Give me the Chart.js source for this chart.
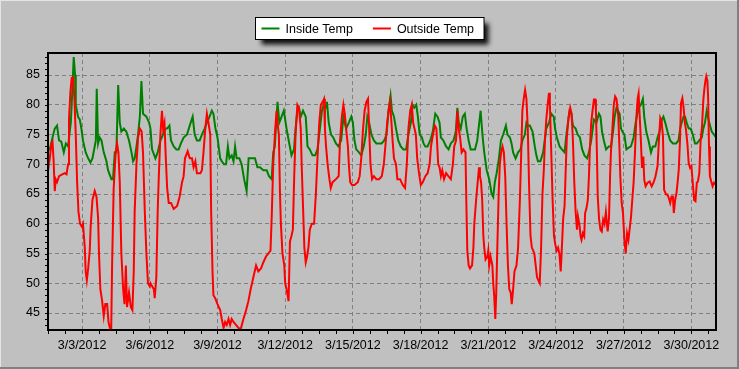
<!DOCTYPE html>
<html>
<head>
<meta charset="utf-8">
<script src="https://cdn.jsdelivr.net/npm/chart.js@4/dist/chart.umd.min.js"></script>
<style>
  body { margin: 0; background: #c0c0c0; }
  canvas { display: block; }
</style>
</head>
<body>
<canvas id="chart" width="739" height="369"></canvas>
<script>
// days are day-of-month in March 2012 (fractional = time of day)
var xTickDays = [3, 6, 9, 12, 15, 18, 21, 24, 27, 30];
var xTickLabels = ['3/3/2012', '3/6/2012', '3/9/2012', '3/12/2012', '3/15/2012',
  '3/18/2012', '3/21/2012', '3/24/2012', '3/27/2012', '3/30/2012'];
var yTicks = [45, 50, 55, 60, 65, 70, 75, 80, 85];

var insideDay = [1.49,1.57,1.69,1.79,1.89,1.98,2.08,2.19,2.28,2.38,2.50,2.54,2.63,2.69,2.72,2.82,2.90,2.97,
  3.04,3.16,3.27,3.37,3.46,3.56,3.61,3.65,3.71,3.78,3.86,3.96,4.08,4.15,4.30,4.37,4.45,4.52,4.60,4.67,4.74,
  4.85,4.96,5.08,5.19,5.26,5.33,5.41,5.48,5.56,5.63,5.70,5.85,5.97,
  6.03,6.10,6.25,6.35,6.47,6.59,6.69,6.77,6.87,6.94,7.06,7.18,7.28,7.38,7.50,7.65,7.77,7.90,7.99,8.09,
  8.21,8.31,8.43,8.53,8.65,8.75,8.82,8.91,9.00,9.12,9.19,9.29,9.38,9.46,9.53,9.63,9.71,9.78,9.85,9.97,
  10.07,10.18,10.29,10.38,10.51,10.66,10.77,10.88,11.03,11.18,11.28,11.40,11.47,11.54,11.62,11.66,11.74,
  11.84,11.94,12.06,12.18,
  12.28,12.39,12.46,12.54,12.61,12.69,12.79,12.91,12.99,13.09,13.21,13.33,13.43,13.54,13.63,13.70,13.81,
  13.85,13.93,14.03,14.13,14.25,14.36,14.48,14.58,14.70,14.82,14.93,15.00,15.07,15.15,15.27,15.37,15.48,
  15.57,15.64,15.72,15.82,15.93,16.04,16.16,16.27,16.39,16.49,16.58,16.67,16.73,16.82,16.91,17.01,17.12,
  17.24,17.36,17.46,17.57,17.64,17.72,17.81,17.88,17.96,18.06,18.13,18.21,18.31,18.43,
  18.54,18.65,18.75,18.84,18.90,19.01,19.13,19.24,19.34,19.46,19.56,19.63,19.69,19.78,19.87,19.96,20.04,
  20.13,20.22,20.31,20.41,20.51,20.60,20.66,20.74,20.82,20.93,21.04,21.15,21.22,21.29,21.37,21.47,21.56,
  21.66,21.78,21.85,21.96,22.03,22.10,22.21,22.32,22.43,22.51,22.62,22.69,22.76,22.84,22.96,23.06,23.13,
  23.20,23.31,23.43,23.50,23.57,23.69,23.79,23.90,23.96,24.04,24.16,24.26,24.38,24.46,24.53,24.60,24.68,
  24.75,24.87,24.96,
  25.06,25.16,25.26,25.38,25.46,25.56,25.68,25.79,25.90,25.97,26.04,26.12,26.22,26.34,26.44,26.53,26.60,
  26.68,26.75,26.82,26.88,26.94,27.03,27.12,27.22,27.32,27.44,27.53,27.66,27.76,27.85,27.91,28.00,28.10,
  28.21,28.29,28.40,28.50,28.59,28.69,28.76,28.84,28.94,29.06,29.18,29.32,29.43,29.50,29.57,29.65,29.72,
  29.79,29.88,29.97,30.06,30.16,30.24,30.35,30.46,30.53,30.60,30.68,30.79,30.90,31.00,31.09];
var insideTemp = [72.8,72.5,74.5,76,76.5,74,73.8,72,73.5,73,77,80,88,85,80,78,77.5,76,
  74,72,71,70.3,71,73,74,82.7,73.5,74.5,74,72,70.5,69,67.5,67.5,72,72,83.3,77,75.5,
  76,75.5,74,72,70.5,71,73,75,78,84,78.5,78,77,
  76,72.5,71,72,74,75,76,76,76.5,74,73,72.5,72.5,73.5,74.5,75,76.5,78,75,74,
  74,75,76,77,78,79,78.5,76,74.5,71,70.5,70,70,73,71,71.5,70.5,73,71,71,
  70,67.5,65.5,71,71,71,69.5,69.5,69,69,68,67.5,72,73,78,80.5,77,
  78,79,76,73.5,
  71.5,72.5,76,79,79.5,78,79,78,73,72.5,71.5,71.5,72.5,76,79,80,79.5,
  80.5,77,75,74.5,73.5,73,74,78,76,77,78,77,74,72.5,72,71.5,73,
  75,78,77,75,74,73.5,73.5,73.5,74,75,79,81.5,79,78,76,74,73,
  72.5,72.5,75,77,80,79.5,80,78,75,74.5,73.5,73,73,74,
  75.5,78.5,78,77,74.5,74,73,72.5,73.5,74,75.5,79.5,77,76,78,78.5,76,
  74,72.5,72.5,72.5,74,77,79,75,72,69,67.5,65,64.5,67,68.5,71,74,
  75,76.5,75,74.5,73.5,72,71,72,72.5,74,75,77,76.5,76.5,75.5,73,71.5,
  70.5,70.5,72,74,76,77,78.5,78,76,74.5,73,72.5,72,75,77,79,78.5,
  76.5,76,75,
  74.5,72.5,71.5,71,72,74,77.5,77,78.5,78,75.5,74,72.5,73,73,75.5,78,
  79.5,79,78.5,76,75.5,75,72.5,72.8,73,74.5,77,79.5,80,81,78,75.5,74,
  72,73,73,74.5,75.5,77.5,78,77,75.5,74,73.5,73.5,74,76,77,78,78,
  77,76,76,75,73.5,73.5,74,74.5,76,77,79,77,75.5,75,74.5];

var outsideDay = [1.49,1.57,1.64,1.69,1.74,1.79,1.83,1.89,1.98,2.08,2.23,2.31,2.38,2.42,2.48,2.54,2.60,2.66,
  2.72,2.78,2.84,2.91,2.99,3.04,3.12,3.16,3.21,3.27,3.34,3.38,3.46,3.56,3.64,3.71,3.75,3.81,3.89,3.96,
  4.03,4.11,4.17,4.23,4.29,4.33,4.40,4.49,4.55,4.61,4.67,4.74,4.82,4.88,4.94,4.99,5.08,5.16,5.23,5.29,
  5.33,5.41,5.48,5.56,5.64,5.70,5.78,5.85,5.92,6.00,
  6.03,6.18,6.22,6.29,6.35,6.40,6.47,6.54,6.59,6.65,6.71,6.77,6.84,6.94,7.06,7.21,7.32,7.43,7.50,7.56,
  7.68,7.77,7.87,7.94,8.02,8.09,8.24,8.31,8.38,8.46,8.53,8.60,8.68,8.72,8.78,8.82,8.90,9.00,9.12,9.19,
  9.27,9.34,9.41,9.49,9.56,9.63,9.71,9.82,9.93,10.03,10.15,10.27,10.37,10.47,10.59,10.71,10.81,10.93,
  11.03,11.15,11.25,11.35,11.41,11.47,11.56,11.62,11.66,11.72,11.77,11.81,11.88,11.96,12.00,12.06,12.15,
  12.21,12.28,12.34,12.40,12.46,12.54,12.61,12.69,12.73,12.79,12.85,12.91,12.97,13.03,13.09,13.18,13.28,
  13.36,13.43,13.51,13.58,13.66,13.72,13.76,13.81,13.88,13.96,14.02,14.10,14.25,14.37,14.43,14.51,14.58,
  14.64,14.70,14.78,14.82,14.88,14.96,15.07,15.22,15.30,15.37,15.45,15.52,15.60,15.67,15.72,15.78,15.85,
  15.93,16.04,16.16,16.28,16.37,16.46,16.52,16.58,16.64,16.70,16.76,16.82,16.91,16.97,17.09,17.21,17.31,
  17.39,17.46,17.54,17.61,17.67,17.73,17.79,17.85,17.93,18.01,18.10,18.21,18.31,18.40,18.46,18.55,18.63,
  18.70,
  18.78,18.84,18.90,18.96,19.04,19.13,19.23,19.34,19.43,19.49,19.57,19.63,19.69,19.75,19.82,19.90,19.99,
  20.03,20.07,20.13,20.19,20.28,20.34,20.38,20.46,20.53,20.59,20.63,20.68,20.73,20.78,20.82,20.88,20.96,
  21.00,21.04,21.10,21.18,21.22,21.26,21.31,21.35,21.40,21.46,21.51,21.57,21.63,21.69,21.75,21.81,21.87,
  21.93,21.99,22.04,22.10,22.16,22.25,22.32,22.40,22.46,22.51,22.57,22.63,22.69,22.75,22.81,22.87,22.93,
  22.99,23.04,23.10,23.16,23.22,23.28,23.34,23.40,23.46,23.51,23.57,23.63,23.69,23.73,23.79,23.85,23.91,
  23.97,24.03,24.09,24.15,24.21,24.26,24.32,24.38,24.43,24.48,24.56,24.63,24.69,24.75,24.81,24.87,24.93,
  24.97,
  25.04,25.09,25.13,25.19,25.25,25.29,25.35,25.41,25.46,25.50,25.56,25.62,25.68,25.74,25.77,25.81,25.85,
  25.91,25.97,26.03,26.09,26.15,26.21,26.24,26.29,26.35,26.40,26.44,26.50,26.56,26.62,26.68,26.72,26.76,
  26.81,26.85,26.91,26.97,27.03,27.09,27.15,27.21,27.26,27.32,27.38,27.44,27.50,27.56,27.62,27.66,27.71,
  27.76,27.81,27.87,27.91,27.97,28.06,28.15,28.24,28.32,28.41,28.50,28.56,28.62,28.68,28.74,28.79,28.88,
  28.94,29.00,29.06,29.12,29.18,29.22,29.28,29.34,29.40,29.44,29.49,29.54,29.60,29.65,29.71,29.76,29.82,
  29.88,29.94,30.00,30.06,30.12,30.18,30.24,30.29,30.35,30.41,30.47,30.53,30.57,30.62,30.66,30.71,30.74,
  30.78,30.82,30.88,30.94,31.00,31.06];
var outsideTemp = [69,71,73.5,73.8,70.5,65.5,67.5,67,68,68.2,68.5,68.3,70,77.5,82,84.5,84.6,81,
  75,67,62,60,59.5,60,56,52,50.5,52.5,55.5,59.5,64,65.5,64.5,61,55,49,47,44.5,
  46.5,46.5,43.5,42.5,42,53,66,72,73.5,72,67,55,49,46.5,53,46,48.5,46,45.5,52,
  62,70,74.5,76,75.5,72,62,55,50,49.5,
  50,49,47.5,51,62,68,75,79,76,77,71,66,63.5,63.5,62.5,63,64.5,67,68,71,
  72.2,71,71,69.5,70.5,68.5,68.5,69,72,76,78.5,77,75,62,52,48,47.5,46.5,45.5,44,
  42.5,43.5,43,44,43,44,43.5,43,42.5,42.3,44,45.5,47,49,51,53,52,52.5,
  53.5,54.5,55,55.5,62,70,76,79,77,75,65,60,55,53,50,49,47,
  57,58,59,68,75,80,79.5,76,70,63,56,53.5,54.5,56,59,60,60,
  65,71,77,80,80.5,81,76,73,70,67.5,66,67,67.5,68,74,78,80,
  78.5,76,73,70,67,66.5,66.5,67,68,71,76,79,80.5,81,76,70,67.5,
  68,67.5,67.5,68,70,74,77,79,80.5,77.5,74,71,70,67.5,67.5,66.5,66,
  70,76,79,80,77,76,75,71,68.5,66.5,67,68,68.5,70,73,75,76.5,
  76,
  70,69.5,68,69,67.5,68.5,68,67.5,70,73,74,79,76,74.5,72,72.5,72,
  63,55.5,53,52.5,53,56,60,64,67,69.5,68,67,64,58,56,54,54.5,
  55.5,53,54.5,53,50,48,44,48,56,65,70,72,73,72,68,60,53,
  49,48.5,46.5,49,52,53,56,64,72,79,81,82.5,81,76,66,58,56,
  55.5,55,53,51,50.5,50,56,65,69,74,77.5,80,82,80,72,64,58,
  56.5,55.5,56,55,52,56,61,63,69,74.5,78,79.5,78.5,74,67,62,59,
  61.3,
  59.8,57.9,57.3,58.4,57.9,61.8,62.6,64,68,72.5,77,79,80.9,80.9,79,72.5,64.6,
  60.7,59,58.7,60.7,60,62,60.7,58.7,61,68.5,72.5,76,80,81.4,81,79.7,78,
  73,68,63.5,61.8,57.3,55,58.4,57.3,59,61,64,67,72,77.8,81.1,81.9,78,
  74.1,69.4,71.3,67.4,66.3,66.9,67.1,66.3,66.9,68,69.7,74,77.8,77.2,74.7,65.7,64.9,
  64.9,64.3,63.5,64.6,64.6,61.8,64,65.2,67.4,69.1,73.6,80.3,81.1,79.7,77,75.8,73.6,
  70.2,69.4,69.7,66.9,64,63.8,66.9,67.1,68.5,74,76.4,80.9,82.5,84,84.8,84,81.4,
  73,68,67.1,66.3,66.9,66.6];

function toPoints(days, temps) {
  return days.map(function(d, i){ return { x: d, y: temps[i] }; });
}

var fontFamily = "'Liberation Sans', Arial, sans-serif";

// window background + 3d edge
var backgroundPlugin = {
  id: 'background',
  beforeDraw: function(chart){
    var ctx = chart.ctx, w = chart.width, h = chart.height;
    ctx.save();
    ctx.fillStyle = '#c0c0c0';
    ctx.fillRect(0, 0, w, h);
    ctx.fillStyle = '#e4e4e4';
    ctx.fillRect(0, 0, w, 1);
    ctx.fillRect(0, 0, 1, h);
    ctx.fillStyle = '#808080';
    ctx.fillRect(w - 2, 0, 2, h);
    ctx.fillRect(0, h - 2, w, 2);
    ctx.restore();
  }
};

// black plot frame with small ticks
var framePlugin = {
  id: 'frame',
  afterDraw: function(chart){
    var ctx = chart.ctx, a = chart.chartArea;
    var xs = chart.scales.x, ys = chart.scales.y;
    ctx.save();
    ctx.strokeStyle = '#000';
    ctx.lineWidth = 1;
    ctx.beginPath();
    for (var d = 1.5; d <= xs.max; d += 0.75) {
      var px = Math.round(xs.getPixelForValue(d)) + 0.5;
      ctx.moveTo(px, a.bottom);
      ctx.lineTo(px, a.bottom + 4);
    }
    for (var v = 43; v <= 88; v++) {
      var py = Math.round(ys.getPixelForValue(v)) + 0.5;
      ctx.moveTo(a.left - 3, py);
      ctx.lineTo(a.left, py);
    }
    ctx.stroke();
    ctx.lineWidth = 2;
    ctx.strokeRect(a.left, a.top, a.right - a.left, a.bottom - a.top);
    ctx.restore();
  }
};

// boxed legend with drop shadow
var legendPlugin = {
  id: 'boxLegend',
  afterDraw: function(chart){
    var ctx = chart.ctx;
    var sets = chart.data.datasets;
    ctx.save();
    ctx.font = '12.5px ' + fontFamily;
    var widths = sets.map(function(s){ return ctx.measureText(s.label).width; });
    var total = 8 + 18 + 6 + widths[0] + 20 + 18 + 6 + widths[1] + 8;
    var bx = Math.round(chart.width / 2 - total / 2) + 0.5, by = 17.5, bh = 22;
    ctx.shadowColor = 'rgba(0,0,0,0.95)';
    ctx.shadowBlur = 5;
    ctx.shadowOffsetX = 5;
    ctx.shadowOffsetY = 5;
    ctx.fillStyle = '#fff';
    ctx.fillRect(bx, by, total, bh);
    ctx.shadowColor = 'transparent';
    ctx.strokeStyle = '#000';
    ctx.lineWidth = 1;
    ctx.strokeRect(bx, by, total, bh);
    var x = bx + 6;
    var cy = by + bh / 2;
    sets.forEach(function(s, i){
      ctx.strokeStyle = s.borderColor;
      ctx.lineWidth = 2;
      ctx.beginPath();
      ctx.moveTo(x, cy);
      ctx.lineTo(x + 18, cy);
      ctx.stroke();
      ctx.fillStyle = '#000';
      ctx.textBaseline = 'middle';
      ctx.fillText(s.label, x + 24, cy + 1);
      x += 18 + 6 + widths[i] + 20;
    });
    ctx.restore();
  }
};

new Chart(document.getElementById('chart'), {
  type: 'line',
  data: {
    datasets: [{
      label: 'Inside Temp',
      data: toPoints(insideDay, insideTemp),
      borderColor: '#008000',
      borderWidth: 2,
      pointRadius: 0,
      tension: 0,
      order: 1
    }, {
      label: 'Outside Temp',
      data: toPoints(outsideDay, outsideTemp),
      borderColor: '#ff0000',
      borderWidth: 2,
      pointRadius: 0,
      tension: 0,
      order: 0
    }]
  },
  options: {
    responsive: false,
    animation: false,
    events: [],
    layout: { padding: { left: 0, top: 53, right: 23, bottom: 0 } },
    plugins: { legend: { display: false }, tooltip: { enabled: false } },
    scales: {
      x: {
        type: 'linear',
        min: 1.49,
        max: 31.09,
        afterBuildTicks: function(s){ s.ticks = xTickDays.map(function(v){ return { value: v }; }); },
        afterFit: function(s){ s.height = 39; },
        ticks: {
          autoSkip: false,
          maxRotation: 0,
          padding: 8,
          color: '#000',
          font: { family: fontFamily, size: 12.5 },
          callback: function(v, i){ return xTickLabels[i]; }
        },
        grid: { color: '#808080', lineWidth: 1, drawTicks: false },
        border: { display: false, dash: [4, 3] }
      },
      y: {
        min: 42.15,
        max: 88.7,
        afterBuildTicks: function(s){ s.ticks = yTicks.map(function(v){ return { value: v }; }); },
        afterFit: function(s){ s.width = 48; },
        ticks: {
          padding: 8,
          color: '#000',
          font: { family: fontFamily, size: 12.5 }
        },
        grid: { color: '#808080', lineWidth: 1, drawTicks: false },
        border: { display: false, dash: [4, 3] }
      }
    }
  },
  plugins: [backgroundPlugin, framePlugin, legendPlugin]
});
</script>
</body>
</html>
